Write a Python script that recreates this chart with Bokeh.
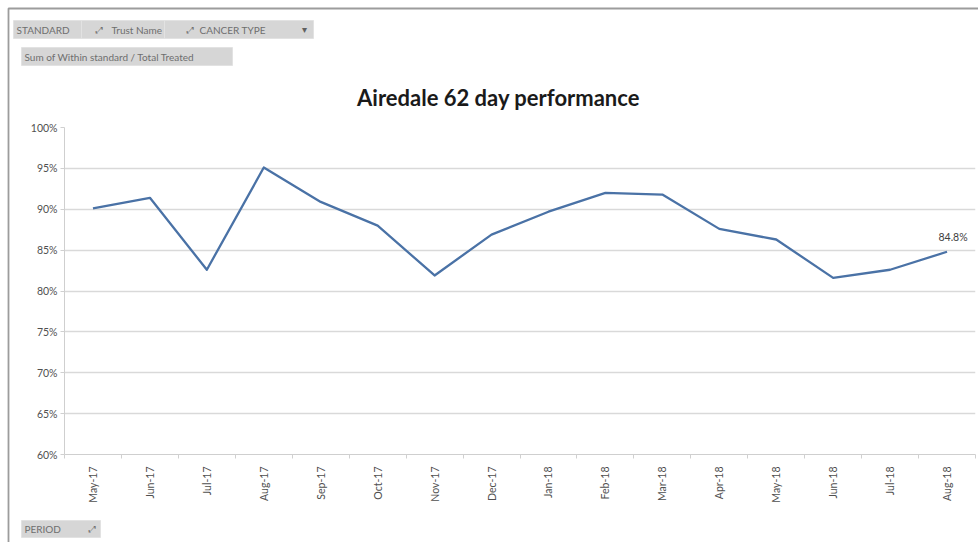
from bokeh.plotting import figure
from bokeh.models import (FixedTicker, NumeralTickFormatter, Label,
                          ColumnDataSource, Range1d, GridBox)
from bokeh.core.properties import value
from bokeh.embed import file_html
from bokeh.resources import INLINE
from math import pi

# Monthly share of patients treated within the 62 day standard
periods = ["May-17", "Jun-17", "Jul-17", "Aug-17", "Sep-17", "Oct-17", "Nov-17", "Dec-17",
           "Jan-18", "Feb-18", "Mar-18", "Apr-18", "May-18", "Jun-18", "Jul-18", "Aug-18"]
performance = [0.901, 0.914, 0.826, 0.951, 0.909, 0.880, 0.819, 0.869,
               0.897, 0.920, 0.918, 0.876, 0.863, 0.816, 0.826, 0.848]
y_ticks = [0.60, 0.65, 0.70, 0.75, 0.80, 0.85, 0.90, 0.95, 1.00]

chart_title = "Airedale 62 day performance"
field_buttons = ["STANDARD", "Trust Name", "CANCER TYPE",
                 "Sum of Within standard / Total Treated", "PERIOD"]

FONT = "Lato"
W, H = 978, 542

# ---------------------------------------------------------------------------
# backdrop: chart-area border, title and pivot field buttons, in pixel space
# ---------------------------------------------------------------------------
bg = figure(width=W, height=H, output_backend="svg", toolbar_location=None,
            x_range=Range1d(0, W), y_range=Range1d(H, 0),
            x_axis_type=None, y_axis_type=None, min_border=0, title=None)
bg.frame_align = False
bg.outline_line_color = None
bg.xgrid.grid_line_color = None
bg.ygrid.grid_line_color = None
bg.background_fill_color = "white"
bg.border_fill_color = "white"

bg.line(x=[8, 8, W + 5], y=[H + 5, 8, 8], line_color="#9c9c9c", line_width=1.8)

# left, top, right, bottom of each button; icon position (None when absent)
btn_left = [13, 81, 164, 21, 21]
btn_top = [20, 20, 20, 47, 520]
btn_right = [81, 164, 313, 232, 100]
btn_bottom = [38, 38, 38, 65, 537]
icon_x = [None, 95, 186, None, 88]
text_x = [16, 111, 199, 24, 24]

bg.quad(left=btn_left, right=btn_right, top=btn_top, bottom=btn_bottom,
        fill_color="#d6d6d6", line_color="#e2e2e2", line_width=1)
bg.text(x=text_x, y=[(t + b) / 2 for t, b in zip(btn_top, btn_bottom)], text=field_buttons,
        text_font=value(FONT), text_font_size="10px", text_color="#6e6e6e",
        text_align="left", text_baseline="middle")
ix = [x for x in icon_x if x is not None]
iy = [(t + b) / 2 for x, t, b in zip(icon_x, btn_top, btn_bottom) if x is not None]
bg.text(x=ix, y=iy, text=["\u2922"] * len(ix), text_font=value("DejaVu Sans"),
        text_font_size="9px", text_color="#707070", text_align="left",
        text_baseline="middle")
bg.text(x=[304], y=[29], text=["\u25be"], text_font=value("DejaVu Sans"),
        text_font_size="10px", text_color="#606060", text_align="center",
        text_baseline="middle")

bg.text(x=[498], y=[97], text=[chart_title], text_font=value(FONT),
        text_font_style="bold", text_font_size="22px", text_color="#1a1a1a",
        text_align="center", text_baseline="middle")

# ---------------------------------------------------------------------------
# the line chart itself, laid over the backdrop with a transparent fill
# ---------------------------------------------------------------------------
idx = list(range(len(periods)))
src = ColumnDataSource(dict(x=idx, y=performance))

p = figure(width=W, height=H, output_backend="svg", toolbar_location=None,
           x_range=Range1d(-0.5, len(periods) - 0.5), y_range=Range1d(0.6, 1.0),
           min_border_left=64, min_border_right=3, min_border_top=127,
           min_border_bottom=88, title=None)
p.frame_align = False
p.outline_line_color = None
p.background_fill_color = None
p.border_fill_color = None

# category axis: labels at month centres, small ticks on the boundaries
p.xaxis.ticker = FixedTicker(ticks=idx, minor_ticks=[i - 0.5 for i in range(len(periods) + 1)])
p.xaxis.major_label_overrides = {i: s for i, s in enumerate(periods)}
p.xaxis.major_label_orientation = pi / 2
p.xaxis.major_tick_line_color = None
p.xaxis.minor_tick_line_color = "#d0d0d0"
p.xaxis.minor_tick_out = 4
p.xaxis.minor_tick_in = 0
p.xaxis.axis_line_color = "#cfcfcf"
p.xaxis.major_label_text_font = FONT
p.xaxis.major_label_text_font_size = "10.5px"
p.xaxis.major_label_text_color = "#505050"
p.xaxis.major_label_standoff = 6
p.xgrid.grid_line_color = None

p.yaxis.ticker = FixedTicker(ticks=y_ticks)
p.yaxis.formatter = NumeralTickFormatter(format="0%")
p.yaxis.axis_line_color = "#cfcfcf"
p.yaxis.major_tick_line_color = "#d0d0d0"
p.yaxis.major_tick_out = 4
p.yaxis.major_tick_in = 0
p.yaxis.minor_tick_line_color = None
p.yaxis.major_label_text_font = FONT
p.yaxis.major_label_text_font_size = "10.5px"
p.yaxis.major_label_text_color = "#505050"
p.yaxis.major_label_standoff = 3
p.ygrid.ticker = FixedTicker(ticks=y_ticks)
p.ygrid.grid_line_color = "#d9d9d9"
p.ygrid.grid_line_width = 1.3

p.line("x", "y", source=src, line_color="#4a72a6", line_width=2.3, line_join="round")

# value label on the latest month
last = len(periods) - 1
p.add_layout(Label(x=last, y=performance[last], text=f"{performance[last]*100:.1f}%",
                   x_offset=6, y_offset=9, text_align="center", text_baseline="bottom",
                   text_font=FONT, text_font_size="10.5px", text_color="#404040"))

page = GridBox(children=[(bg, 0, 0), (p, 0, 0)], width=W, height=H)

open("out.html", "w").write(file_html(page, INLINE))
